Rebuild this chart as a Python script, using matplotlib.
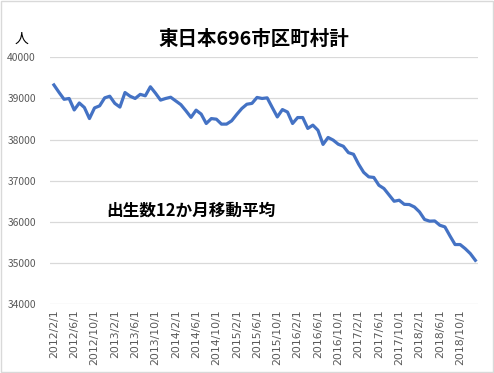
import matplotlib
matplotlib.use('Agg')
import matplotlib.pyplot as plt
from matplotlib.patches import Rectangle
import pandas as pd

plt.rcParams['font.family'] = ['Noto Sans CJK JP', 'DejaVu Sans']

# monthly 12-month moving average of births, 2012/2 .. 2019/1
months = pd.date_range('2012-02-01', '2019-01-01', freq='MS')
births = [39330, 39150, 38980, 39000, 38720, 38890, 38780, 38510, 38770, 38820,
          39015, 39055, 38880, 38790, 39145, 39055, 39000, 39100, 39065, 39285,
          39130, 38960, 39000, 39030, 38940, 38850, 38700, 38540, 38715, 38620,
          38390, 38510, 38495, 38375, 38375, 38455, 38610, 38755, 38860, 38880,
          39025, 39000, 39015, 38780, 38550, 38730, 38670, 38390, 38535, 38535,
          38270, 38350, 38225, 37880, 38050, 37985, 37885, 37835, 37680, 37640,
          37400, 37200, 37090, 37075, 36885, 36805, 36650, 36495, 36520, 36420,
          36415, 36355, 36235, 36050, 36010, 36015, 35910, 35870, 35650, 35440,
          35440, 35340, 35220, 35055]
labels = [f'{d.year}/{d.month}/1' for d in months]
yticks = [34000, 35000, 36000, 37000, 38000, 39000, 40000]

fig = plt.figure(figsize=(4.94, 3.73), dpi=100)
fig.patches.append(Rectangle((0.002, 0.003), 0.995, 0.994, transform=fig.transFigure,
                             fill=False, edgecolor='#D9D9D9', linewidth=1))
ax = fig.add_axes([0.101, 0.186, 0.866, 0.660])

x = list(range(len(births)))
ax.plot(x, births, color='#4472C4', linewidth=2.3, solid_joinstyle='round')

ax.set_ylim(34000, 40000)
ax.set_yticks(yticks)
ax.set_xlim(-0.79, 83.46)
ax.set_xticks(x[::4])
ax.set_xticklabels(labels[::4], rotation=90, fontsize=7.8, color='#595959',
                   family='DejaVu Sans')
ax.tick_params(axis='y', labelsize=7.4, labelcolor='#595959', length=0, pad=10)
ax.tick_params(axis='x', length=0, pad=4)
ax.grid(axis='y', color='#D9D9D9', linewidth=0.9)
ax.set_axisbelow(True)
for s in ax.spines.values():
    s.set_visible(False)

fig.text(0.514, 0.895, '東日本696市区町村計', ha='center', va='center',
         fontsize=14, fontweight='bold')
fig.text(0.043, 0.895, '人', ha='center', va='center', fontsize=10)
ax.text(0.215, 0.436, '出生数12か月移動平均', transform=fig.transFigure,
        ha='left', va='center', fontsize=12, fontweight='bold')

fig.savefig('out.png', dpi=100)
